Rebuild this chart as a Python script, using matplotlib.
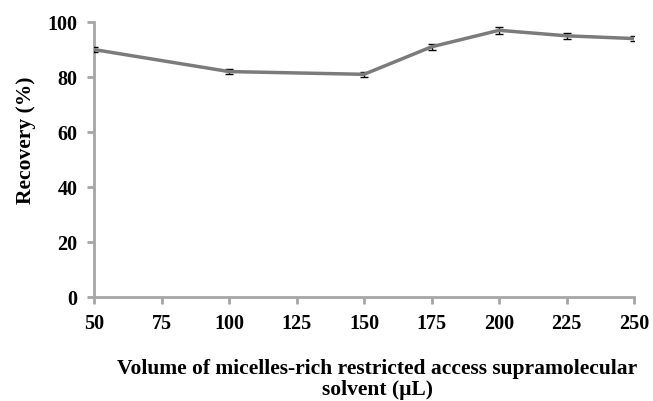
import matplotlib
matplotlib.use("Agg")
import matplotlib.pyplot as plt

plt.rcParams["font.family"] = "Liberation Serif"
plt.rcParams["font.weight"] = "bold"
plt.rcParams["font.size"] = 14

volume = [50, 100, 150, 175, 200, 225, 250]
recovery = [90, 82, 81, 91, 97, 95, 94]
err = [1.0, 1.0, 1.0, 1.0, 1.2, 1.0, 1.0]
xticks = [50, 75, 100, 125, 150, 175, 200, 225, 250]
yticks = [0, 20, 40, 60, 80, 100]

fig = plt.figure(figsize=(6.53, 4.01), dpi=100)
ax = fig.add_axes([0.144, 0.259, 0.827, 0.686])

ax.errorbar(volume, recovery, yerr=err, color="#7b7b7b", lw=2.5,
            ecolor="black", elinewidth=1.0, capsize=3, capthick=1.0, zorder=3)

ax.set_xlim(50, 250)
ax.set_ylim(0, 100)
ax.set_xticks(xticks)
ax.set_yticks(yticks)
ax.set_xticklabels([str(t) for t in xticks], fontweight="bold", fontsize=14.5)
ax.set_yticklabels([str(t) for t in yticks], fontweight="bold", fontsize=14.5)

for side in ("top", "right"):
    ax.spines[side].set_visible(False)
for side in ("left", "bottom"):
    ax.spines[side].set_color("#a6a6a6")
    ax.spines[side].set_linewidth(2.0)
ax.tick_params(direction="out", length=5, width=2.0, color="#a6a6a6", pad=7)

ax.set_ylabel("Recovery (%)", fontweight="bold", fontsize=15.5, labelpad=8)
ax.yaxis.label.set_y(0.571)
ax.set_xlabel("Volume of micelles-rich restricted access supramolecular\nsolvent (\u00b5L)",
              fontweight="bold", fontsize=15.5, labelpad=18, linespacing=1.05)
ax.xaxis.label.set_x(0.525)

fig.savefig("out.png", dpi=100)
